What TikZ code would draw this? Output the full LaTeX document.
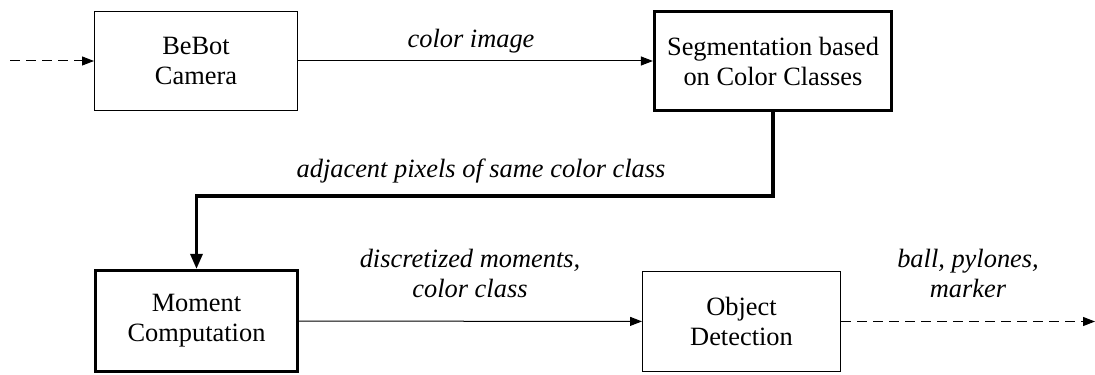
\documentclass[tikz,border=0pt]{standalone}
\usepackage{fontspec}
\setmainfont{Liberation Serif}
\usetikzlibrary{arrows.meta}
\begin{document}
\begin{tikzpicture}[x=0.5pt,y=-0.5pt,
  every node/.style={font=\fontsize{13.2}{15}\selectfont, align=center},
  block/.style={draw, line width=0.5pt, inner sep=0pt},
  heavyblock/.style={draw, line width=1.6pt, inner sep=0pt},
  flow/.style={line width=0.5pt, -{Triangle[length=6pt,width=4.5pt]}},
  dashflow/.style={flow, dash pattern=on 5pt off 3pt},
  heavyflow/.style={line width=1.6pt, -{Triangle[length=7.5pt,width=6pt]}},
  tag/.style={inner sep=0pt, font=\fontsize{13.2}{15}\selectfont\itshape}
]
\useasboundingbox (0,0) rectangle (1095,374);

% processing stages
\node[block, minimum width=101.5pt, minimum height=49.5pt] (cam) at (196,61) {BeBot\\Camera};
\node[heavyblock, minimum width=118.5pt, minimum height=49.5pt] (seg) at (773,61) {Segmentation based\\on Color Classes};
\node[heavyblock, minimum width=101pt, minimum height=50.5pt] (mom) at (196.5,321) {Moment\\Computation};
\node[block, minimum width=99pt, minimum height=50pt] (obj) at (741.5,321.5) {Object\\Detection};

% free ends and bends
\coordinate (in) at (10,61);
\coordinate (out) at (1095,321.5);
\coordinate (bend) at (773,196);

% connectors
\draw[dashflow] (in) -- (cam);
\draw[flow] (cam) -- (seg);
\draw[heavyflow] (seg.south) -- (bend) -| (mom.north);
\draw[flow] (mom) -- (obj);
\draw[dashflow] (obj) -- (out);

% connector labels
\node[tag, anchor=base] (lcol) at (471,48) {color image};
\node[tag, anchor=base] (ladj) at (481,177) {adjacent pixels of same color class};
\node[tag, anchor=south] (lmom) at (470,298) {discretized moments,\\color class};
\node[tag, anchor=south] (lobj) at (968,298) {ball, pylones,\\marker};
\end{tikzpicture}
\end{document}
